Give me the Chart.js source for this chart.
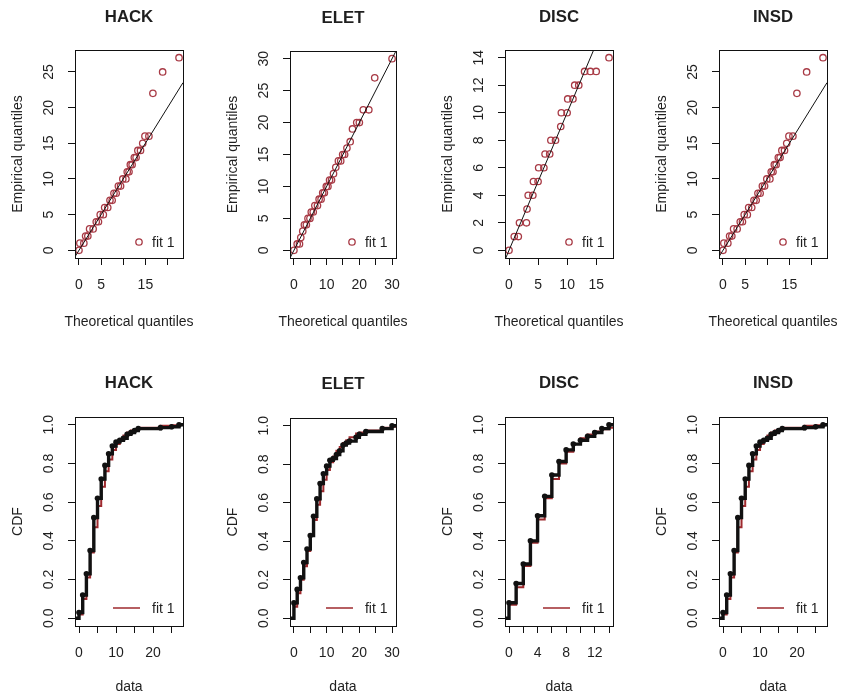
<!DOCTYPE html>
<html>
<head>
<meta charset="utf-8">
<script src="https://cdn.jsdelivr.net/npm/chart.js@4.4.1/dist/chart.umd.min.js"></script>
<style>
  body { margin: 0; background: #fff; }
  #page { position: relative; width: 842px; height: 699px; overflow: hidden; background: #fff; }
  .panel { position: absolute; }
</style>
</head>
<body>
<div id="page"></div>
<script>
// ---- data ----
// Q-Q plots: theoretical vs empirical quantiles (visible points only)
const hackTheo = [0.0, 0.2, 1.1, 1.5, 2.0, 2.4, 3.2, 3.9, 4.4, 4.8, 5.5, 5.8, 6.5, 7.0, 7.5, 7.9, 8.4, 8.9, 9.4, 9.9, 10.6, 10.9, 11.3, 11.6, 12.0, 12.5, 12.9, 13.3, 13.9, 14.4, 14.9, 15.8, 16.7, 18.9, 22.6];
const hackEmp  = [0, 1, 1, 2, 2, 3, 3, 4, 4, 5, 5, 6, 6, 7, 7, 8, 8, 9, 9, 10, 10, 11, 11, 12, 12, 13, 13, 14, 14, 15, 16, 16, 22, 25, 27];

const eletTheo = [0.0, 1.0, 1.7, 2.1, 2.7, 3.2, 3.8, 4.3, 4.9, 5.3, 5.9, 6.4, 7.2, 7.7, 8.3, 8.8, 9.3, 9.9, 10.4, 10.9, 11.5, 12.1, 12.8, 13.6, 14.3, 14.9, 15.5, 16.2, 17.2, 17.9, 19.2, 20.0, 21.2, 22.9, 24.7, 30.0];
const eletEmp  = [0, 1, 1, 2, 3, 4, 4, 5, 5, 6, 6, 7, 7, 8, 8, 9, 9, 10, 10, 11, 11, 12, 13, 14, 14, 15, 15, 16, 17, 19, 20, 20, 22, 22, 27, 30];

const discTheo = [0.0, 0.9, 1.6, 1.8, 3.0, 3.1, 3.3, 4.1, 4.2, 5.0, 5.1, 6.0, 6.2, 7.0, 7.2, 8.0, 8.9, 9.0, 10.0, 10.1, 11.0, 11.3, 12.0, 13.0, 14.0, 15.0, 17.2];
const discEmp  = [0, 1, 1, 2, 2, 3, 4, 4, 5, 5, 6, 6, 7, 7, 8, 8, 9, 10, 10, 11, 11, 12, 12, 13, 13, 13, 14];

// INSD reads the same as HACK in the picture
const insdTheo = hackTheo;
const insdEmp  = hackEmp;

// CDF plots: support points, empirical CDF, fitted CDF
const hackCdfX   = [0, 1, 2, 3, 4, 5, 6, 7, 8, 9, 10, 11, 12, 13, 14, 15, 16, 22, 25, 27];
const hackCdfEmp = [0.03, 0.12, 0.23, 0.35, 0.52, 0.62, 0.72, 0.79, 0.85, 0.89, 0.91, 0.92, 0.93, 0.95, 0.96, 0.97, 0.98, 0.985, 0.99, 1.0];
const hackCdfFit = [0.02, 0.10, 0.21, 0.34, 0.47, 0.58, 0.68, 0.76, 0.82, 0.87, 0.90, 0.925, 0.945, 0.96, 0.97, 0.978, 0.984, 0.995, 0.998, 0.999];

const eletCdfX   = [0, 1, 2, 3, 4, 5, 6, 7, 8, 9, 10, 11, 12, 13, 14, 15, 16, 17, 19, 20, 22, 27, 30];
const eletCdfEmp = [0.08, 0.15, 0.21, 0.29, 0.36, 0.43, 0.53, 0.62, 0.70, 0.75, 0.79, 0.82, 0.83, 0.85, 0.87, 0.90, 0.91, 0.92, 0.94, 0.955, 0.97, 0.985, 1.0];
const eletCdfFit = [0.06, 0.13, 0.20, 0.27, 0.35, 0.43, 0.51, 0.59, 0.66, 0.72, 0.77, 0.81, 0.84, 0.87, 0.89, 0.91, 0.925, 0.94, 0.96, 0.965, 0.975, 0.99, 0.995];

const discCdfX   = [0, 1, 2, 3, 4, 5, 6, 7, 8, 9, 10, 11, 12, 13, 14];
const discCdfEmp = [0.08, 0.18, 0.28, 0.40, 0.53, 0.63, 0.74, 0.81, 0.87, 0.90, 0.92, 0.94, 0.96, 0.98, 1.0];
const discCdfFit = [0.07, 0.16, 0.27, 0.39, 0.51, 0.62, 0.72, 0.80, 0.86, 0.90, 0.93, 0.95, 0.965, 0.977, 0.985];

const insdCdfX   = hackCdfX;
const insdCdfEmp = hackCdfEmp;
const insdCdfFit = hackCdfFit;

// tick labels that R actually printed
const hackQQXLabels = [0, 5, 15];
const hackQQYLabels = [0, 5, 10, 15, 20, 25];
const eletQQXLabels = [0, 10, 20, 30];
const eletQQYLabels = [0, 5, 10, 15, 20, 25, 30];
const discQQXLabels = [0, 5, 10, 15];
const discQQYLabels = [0, 2, 4, 6, 8, 10, 12, 14];
const hackCdfXLabels = [0, 10, 20];
const eletCdfXLabels = [0, 10, 20, 30];
const discCdfXLabels = [0, 4, 8, 12];
const cdfYLabels = [0, 0.2, 0.4, 0.6, 0.8, 1.0];

// ---- styling ----
const FONT = "'Liberation Sans', Arial, sans-serif";
const INK = "#1f1f1f";
const PT_RED = "#a83a45";
const LINE_RED = "#9e2a2e";

Chart.defaults.font.family = FONT;
Chart.defaults.font.size = 14;
Chart.defaults.color = INK;

const page = document.getElementById("page");

// box, main title, x label and legend, drawn the way R does it
const rDeco = {
  id: "rDeco",
  afterDatasetsDraw(chart, args, o) {
    const { ctx, chartArea: a } = chart;
    const cx = (a.left + a.right) / 2;
    ctx.save();
    ctx.strokeStyle = "#111";
    ctx.lineWidth = 1;
    ctx.strokeRect(Math.round(a.left) + 0.5, Math.round(a.top) + 0.5,
      Math.round(a.right - a.left), Math.round(a.bottom - a.top));

    ctx.fillStyle = INK;
    ctx.font = "bold 16.8px " + FONT;
    ctx.textAlign = "center";
    ctx.textBaseline = "middle";
    ctx.fillText(o.title, cx, a.top - o.titleGap);

    // x axis label, R lets it run wider than the plot box
    ctx.font = "14px " + FONT;
    ctx.fillText(o.xTitle, cx, a.bottom + o.xTitleGap);

    // legend, no frame
    ctx.textAlign = "left";
    if (o.kind === "qq") {
      const ly = a.bottom - 16;
      ctx.beginPath();
      ctx.arc(a.right - 44, ly, 3.2, 0, Math.PI * 2);
      ctx.strokeStyle = PT_RED;
      ctx.lineWidth = 1.3;
      ctx.stroke();
      ctx.fillText("fit 1", a.right - 31, ly + 1);
    } else {
      const ly = a.bottom - 18;
      ctx.beginPath();
      ctx.moveTo(a.right - 70, ly);
      ctx.lineTo(a.right - 43, ly);
      ctx.strokeStyle = LINE_RED;
      ctx.lineWidth = 1.5;
      ctx.stroke();
      ctx.fillText("fit 1", a.right - 31, ly + 1);
    }
    ctx.restore();
  }
};

const has = (list, v) => list.some(l => Math.abs(l - v) < 1e-9);

function makePanel(p) {
  const row = p.row;
  const T = row === 0 ? 0 : 350;
  const H = row === 0 ? 340 : 349;
  const L = p.box[0] - 70;
  const W = 70 + (p.box[1] - p.box[0]) + 15;

  const div = document.createElement("div");
  div.className = "panel";
  div.style.left = L + "px";
  div.style.top = T + "px";
  const cv = document.createElement("canvas");
  cv.width = W; cv.height = H;
  cv.style.width = W + "px"; cv.style.height = H + "px";
  div.appendChild(cv);
  page.appendChild(div);

  let datasets;
  if (p.kind === "qq") {
    datasets = [
      {
        data: p.theo.map((t, i) => ({ x: t, y: p.emp[i] })),
        showLine: false,
        pointStyle: "circle",
        pointRadius: 3.2,
        pointBorderWidth: 1.3,
        pointBorderColor: PT_RED,
        pointBackgroundColor: "rgba(0,0,0,0)",
        order: 1
      },
      {
        // abline(0, 1) across the whole plot region
        data: [{ x: p.xr[0], y: p.xr[0] }, { x: p.xr[1], y: p.xr[1] }],
        showLine: true,
        borderColor: "#111",
        borderWidth: 1,
        pointRadius: 0,
        clip: 0,
        order: 0
      }
    ];
  } else {
    const emp = [{ x: p.xr[0], y: 0, edge: true }]
      .concat(p.cx.map((v, i) => ({ x: v, y: p.ce[i] })))
      .concat([{ x: p.xr[1], y: 1, edge: true }]);
    const fit = [{ x: p.xr[0], y: 0, edge: true }]
      .concat(p.cx.map((v, i) => ({ x: v, y: p.cf[i] })))
      .concat([{ x: p.xr[1], y: p.cf[p.cf.length - 1], edge: true }]);
    datasets = [
      {
        data: emp,
        showLine: true,
        stepped: "before",
        borderColor: "#111",
        borderWidth: 3.4,
        pointRadius: c => (c.raw && c.raw.edge ? 0 : 2.8),
        pointBackgroundColor: "#111",
        pointBorderColor: "#111",
        pointBorderWidth: 0,
        clip: 0,
        order: 0
      },
      {
        data: fit,
        showLine: true,
        stepped: "before",
        borderColor: LINE_RED,
        borderWidth: 2,
        pointRadius: 0,
        clip: 0,
        order: 1
      }
    ];
  }

  const gridOpts = { drawOnChartArea: false, drawTicks: true, tickLength: 7, color: "#111", lineWidth: 1 };

  new Chart(cv, {
    type: "scatter",
    data: { datasets },
    plugins: [rDeco],
    options: {
      responsive: false,
      animation: false,
      events: [],
      layout: { padding: { top: p.box[2] - T, right: 15, left: 0, bottom: 0 } },
      plugins: {
        legend: { display: false },
        tooltip: { enabled: false },
        rDeco: {
          title: p.title, kind: p.kind,
          titleGap: row === 0 ? 33 : 34,
          xTitle: p.kind === "qq" ? "Theoretical quantiles" : "data",
          xTitleGap: row === 0 ? 64 : 61
        }
      },
      scales: {
        x: {
          type: "linear",
          min: p.xr[0], max: p.xr[1],
          border: { display: false },
          grid: gridOpts,
          ticks: {
            stepSize: p.xStep, includeBounds: false, autoSkip: false,
            maxRotation: 0, minRotation: 0, padding: 11.6, color: INK,
            callback: v => (has(p.xLabels, v) ? String(v) : "")
          },
          title: { display: false },
          afterFit: s => { s.height = T + H - p.box[3]; }
        },
        y: {
          type: "linear",
          min: p.yr[0], max: p.yr[1],
          border: { display: false },
          grid: gridOpts,
          ticks: {
            stepSize: p.yStep, includeBounds: false, autoSkip: false,
            minRotation: 90, maxRotation: 90, crossAlign: "center",
            padding: p.kind === "qq" ? 11 : 9, color: INK,
            callback: v => (has(p.yLabels, v) ? (p.kind === "qq" ? String(v) : v.toFixed(1)) : "")
          },
          title: {
            display: true, text: p.kind === "qq" ? "Empirical quantiles" : "CDF", color: INK,
            padding: { top: 5, bottom: 0 }
          },
          afterFit: s => { s.width = 70; }
        }
      }
    }
  });
}

const panels = [
  { kind: "qq", row: 0, title: "HACK", box: [75, 183, 50, 258], theo: hackTheo, emp: hackEmp,
    xr: [-0.9, 23.5], yr: [-1.08, 28.08], xStep: 5, yStep: 5, xLabels: hackQQXLabels, yLabels: hackQQYLabels },
  { kind: "qq", row: 0, title: "ELET", box: [290, 397, 51, 258], theo: eletTheo, emp: eletEmp,
    xr: [-1.2, 31.2], yr: [-1.2, 31.2], xStep: 5, yStep: 5, xLabels: eletQQXLabels, yLabels: eletQQYLabels },
  { kind: "qq", row: 0, title: "DISC", box: [505, 613, 50, 258], theo: discTheo, emp: discEmp,
    xr: [-0.69, 17.89], yr: [-0.56, 14.56], xStep: 5, yStep: 2, xLabels: discQQXLabels, yLabels: discQQYLabels },
  { kind: "qq", row: 0, title: "INSD", box: [719, 827, 50, 258], theo: insdTheo, emp: insdEmp,
    xr: [-0.9, 23.5], yr: [-1.08, 28.08], xStep: 5, yStep: 5, xLabels: hackQQXLabels, yLabels: hackQQYLabels },

  { kind: "cdf", row: 1, title: "HACK", box: [75, 183, 417, 626], cx: hackCdfX, ce: hackCdfEmp, cf: hackCdfFit,
    xr: [-1.08, 28.08], yr: [-0.04, 1.04], xStep: 5, yStep: 0.2, xLabels: hackCdfXLabels, yLabels: cdfYLabels },
  { kind: "cdf", row: 1, title: "ELET", box: [290, 397, 418, 626], cx: eletCdfX, ce: eletCdfEmp, cf: eletCdfFit,
    xr: [-1.2, 31.2], yr: [-0.04, 1.04], xStep: 5, yStep: 0.2, xLabels: eletCdfXLabels, yLabels: cdfYLabels },
  { kind: "cdf", row: 1, title: "DISC", box: [505, 613, 417, 626], cx: discCdfX, ce: discCdfEmp, cf: discCdfFit,
    xr: [-0.56, 14.56], yr: [-0.04, 1.04], xStep: 2, yStep: 0.2, xLabels: discCdfXLabels, yLabels: cdfYLabels },
  { kind: "cdf", row: 1, title: "INSD", box: [719, 827, 417, 626], cx: insdCdfX, ce: insdCdfEmp, cf: insdCdfFit,
    xr: [-1.08, 28.08], yr: [-0.04, 1.04], xStep: 5, yStep: 0.2, xLabels: hackCdfXLabels, yLabels: cdfYLabels }
];

panels.forEach(makePanel);
</script>
</body>
</html>
